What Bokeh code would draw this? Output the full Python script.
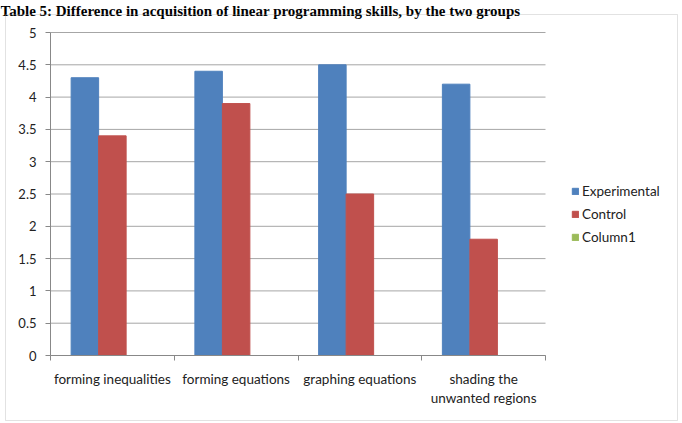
from bokeh.plotting import figure
from bokeh.models import ColumnDataSource, FixedTicker, Label, BoxAnnotation, Legend, LegendItem, Range1d
from bokeh.embed import file_html
from bokeh.resources import INLINE

categories = ["forming inequalities", "forming equations", "graphing equations", "shading the\nunwanted regions"]
experimental = [4.3, 4.4, 4.5, 4.2]
control = [3.4, 3.9, 2.5, 1.8]
column1 = [0, 0, 0, 0]
y_ticks = [0, 0.5, 1, 1.5, 2, 2.5, 3, 3.5, 4, 4.5, 5]
title_text = "Table 5: Difference in acquisition of linear programming skills, by the two groups"

W, H = 682, 423
# plot-area geometry in pixels (left, right, top, bottom)
PL, PR, PT, PB = 50, 545, 32, 355
FONT = "Lato"

n = len(categories)
ymax = 5
xpx = (PR - PL) / n
ypx = (PB - PT) / ymax
x_range = Range1d(-PL / xpx, (W - PL) / xpx)
y_range = Range1d(-(H - PB) / ypx, ymax + PT / ypx)

bw = 1 / 4.5
centers = [i + 0.5 for i in range(n)]
src = ColumnDataSource(dict(
    xe=[c - bw for c in centers], xc=centers, x1=[c + bw for c in centers],
    exp=experimental, ctl=control, c1=column1))

p = figure(width=W, height=H, output_backend="svg", toolbar_location=None,
           x_range=x_range, y_range=y_range)
p.min_border_left = 0
p.min_border_right = 0
p.min_border_top = 0
p.min_border_bottom = 0
p.outline_line_color = None
p.background_fill_color = "white"
p.border_fill_color = "white"
p.xgrid.grid_line_color = None
p.ygrid.grid_line_color = None

# horizontal gridlines at the y ticks, spanning the category area
p.segment(x0=0, x1=n, y0=y_ticks, y1=y_ticks, line_color="#A6A6A6", line_width=1)

r1 = p.vbar(x="xe", top="exp", width=bw, source=src, fill_color="#4F81BD", line_color="#4F81BD")
r2 = p.vbar(x="xc", top="ctl", width=bw, source=src, fill_color="#C0504D", line_color="#C0504D")
r3 = p.vbar(x="x1", top="c1", width=bw, source=src, fill_color="#9BBB59", line_color="#9BBB59")

p.xaxis.fixed_location = 0
p.xaxis.bounds = (0, n)
p.xaxis.ticker = FixedTicker(ticks=centers, minor_ticks=list(range(n + 1)))
p.xaxis.major_label_overrides = {c: lab for c, lab in zip(centers, categories)}
p.xaxis.major_tick_line_color = None
p.xaxis.minor_tick_in = 0
p.xaxis.minor_tick_out = 5
p.xaxis.minor_tick_line_color = "#888888"
p.xaxis.axis_line_color = "#888888"
p.xaxis.major_label_text_font = FONT
p.xaxis.major_label_text_font_size = "13.5px"
p.xaxis.major_label_text_color = "#222222"
p.xaxis.major_label_standoff = 9

p.yaxis.fixed_location = 0
p.yaxis.bounds = (0, ymax)
p.yaxis.ticker = FixedTicker(ticks=y_ticks)
p.yaxis.major_tick_in = 0
p.yaxis.major_tick_out = 5
p.yaxis.minor_tick_line_color = None
p.yaxis.major_tick_line_color = "#888888"
p.yaxis.axis_line_color = "#888888"
p.yaxis.major_label_text_font = FONT
p.yaxis.major_label_text_font_size = "13px"
p.yaxis.major_label_text_color = "#222222"
p.yaxis.major_label_standoff = 9

legend = Legend(items=[LegendItem(label="Experimental", renderers=[r1]),
                       LegendItem(label="Control", renderers=[r2]),
                       LegendItem(label="Column1", renderers=[r3])],
                location=(571, 176))
legend.border_line_color = None
legend.background_fill_alpha = 0
legend.label_text_font = FONT
legend.label_text_font_size = "13.5px"
legend.label_text_color = "#222222"
legend.glyph_width = 8
legend.glyph_height = 8
legend.label_height = 20
legend.spacing = 3
legend.label_standoff = 3
legend.padding = 10
legend.margin = 0
p.add_layout(legend)

# outer chart border (screen units, measured from the frame's bottom-left)
box = BoxAnnotation(left=5, right=677, top=H - 14, bottom=H - 420,
                    left_units="screen", right_units="screen", top_units="screen", bottom_units="screen",
                    fill_alpha=0, line_color="#A0A0A0", line_width=1, level="overlay")
p.add_layout(box)

lab = Label(x=0, y=H - 10, x_units="screen", y_units="screen", text=title_text,
            text_font="Liberation Serif", text_font_style="bold", text_font_size="15px",
            text_baseline="alphabetic", text_color="#000000")
p.add_layout(lab)

open("out.html", "w").write(file_html(p, INLINE))
